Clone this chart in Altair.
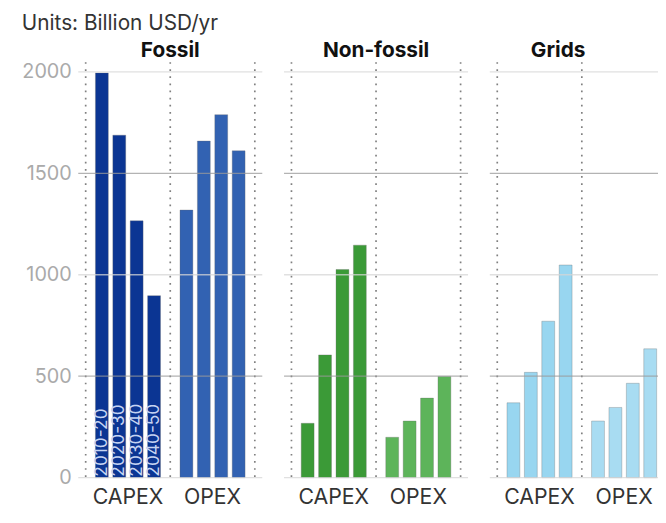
import altair as alt
import pandas as pd

panels = ["Fossil", "Non-fossil", "Grids"]
groups = ["CAPEX", "OPEX"]
periods = ["2010-20", "2020-30", "2030-40", "2040-50"]

fossil_capex = [1995, 1688, 1266, 897]
fossil_opex = [1319, 1659, 1789, 1611]
nonfossil_capex = [268, 605, 1026, 1146]
nonfossil_opex = [199, 279, 392, 499]
grids_capex = [369, 519, 771, 1048]
grids_opex = [279, 346, 465, 635]

bar_colors = {
    ("Fossil", "CAPEX"): "#0b3593",
    ("Fossil", "OPEX"): "#3262b2",
    ("Non-fossil", "CAPEX"): "#3b9a37",
    ("Non-fossil", "OPEX"): "#5db45a",
    ("Grids", "CAPEX"): "#98d6f0",
    ("Grids", "OPEX"): "#a8dcf2",
}

y_ticks = [0, 500, 1000, 1500, 2000]
grid_shade = ["#d6d6d6", "#9a9a9a", "#d6d6d6", "#9a9a9a", "#d6d6d6"]
y_max = 2048

series = {
    ("Fossil", "CAPEX"): fossil_capex,
    ("Fossil", "OPEX"): fossil_opex,
    ("Non-fossil", "CAPEX"): nonfossil_capex,
    ("Non-fossil", "OPEX"): nonfossil_opex,
    ("Grids", "CAPEX"): grids_capex,
    ("Grids", "OPEX"): grids_opex,
}

rows = []
for (p, g), vals in series.items():
    for per, v in zip(periods, vals):
        rows.append({"panel": p, "group": g, "period": per, "value": v, "color": bar_colors[(p, g)]})
df = pd.DataFrame(rows)

grid_df = pd.DataFrame({"value": y_ticks, "shade": grid_shade})
edge_start = pd.DataFrame({"group": groups})
edge_end = pd.DataFrame({"group": [groups[-1]]})
label_df = pd.DataFrame({"group": ["CAPEX"] * 4, "period": periods, "value": [0] * 4})

FONT = "Inter"
W, H = 186, 420


def panel(name, first, last=False):
    d = df[df.panel == name]
    xs = alt.Scale(domain=groups, paddingInner=0, paddingOuter=0.088)
    xo = alt.Scale(domain=periods, paddingInner=0.26, paddingOuter=0.56)
    ys = alt.Scale(domain=[0, y_max], nice=False, zero=True)
    x_axis = alt.Axis(title=None, labelAngle=0, ticks=False, domain=False, grid=False,
                      labelFontSize=21.5, labelColor="#333", labelFont=FONT, labelPadding=9)
    if first:
        y_axis = alt.Axis(title=None, values=y_ticks, format="d", ticks=False, domain=False, grid=False,
                          labelFontSize=20, labelColor="#aaaaaa", labelFont=FONT,
                          labelPadding=7, minExtent=56, maxExtent=56)
    else:
        y_axis = None

    dotted_a = alt.Chart(edge_start).mark_rule(color="#808080", strokeWidth=1.7, strokeDash=[1.7, 5.5]).encode(
        x=alt.X("group:N", scale=xs, axis=x_axis, bandPosition=0)
    )
    dotted_b = alt.Chart(edge_end).mark_rule(color="#808080", strokeWidth=1.7, strokeDash=[1.7, 5.5]).encode(
        x=alt.X("group:N", scale=xs, axis=x_axis, bandPosition=1)
    )
    bars = alt.Chart(d).mark_bar(stroke="#666", strokeWidth=0.7, strokeOpacity=0.45).encode(
        x=alt.X("group:N", scale=xs, axis=x_axis),
        xOffset=alt.XOffset("period:N", scale=xo),
        y=alt.Y("value:Q", scale=ys, axis=y_axis),
        color=alt.Color("color:N", scale=None),
    )
    grid = alt.Chart(grid_df).mark_rule(strokeWidth=1.3, opacity=0.75).encode(
        y=alt.Y("value:Q", scale=ys, axis=y_axis),
        color=alt.Color("shade:N", scale=None),
    )
    layers = [dotted_a, dotted_b, bars, grid]
    if first:
        txt = alt.Chart(label_df).mark_text(angle=270, align="left", baseline="middle", dx=1,
                                            fontSize=17.5, font=FONT, color="#c6d4f2").encode(
            x=alt.X("group:N", scale=xs, axis=x_axis),
            xOffset=alt.XOffset("period:N", scale=xo),
            y=alt.Y("value:Q", scale=ys, axis=y_axis),
            text="period:N",
        )
        layers.append(txt)
    title = alt.Title(name, frame="group", fontSize=21, fontWeight="bold", font=FONT,
                      color="#111", offset=0, dx=(-24 if last else 0))
    return alt.layer(*layers).properties(width=W, height=H, title=title)


chart = alt.hconcat(
    panel("Fossil", True), panel("Non-fossil", False), panel("Grids", False, last=True), spacing=20
).properties(
    title=alt.Title("Units: Billion USD/yr", anchor="start", fontSize=21, fontWeight="normal",
                    font=FONT, color="#333", offset=7),
    # the right-hand panel runs off the page edge in the reference: trim it
    padding={"left": 13, "top": 2, "right": -17, "bottom": 0},
).configure_view(stroke=None)

chart.save("out.html", embed_options={"renderer": "svg", "actions": False})
